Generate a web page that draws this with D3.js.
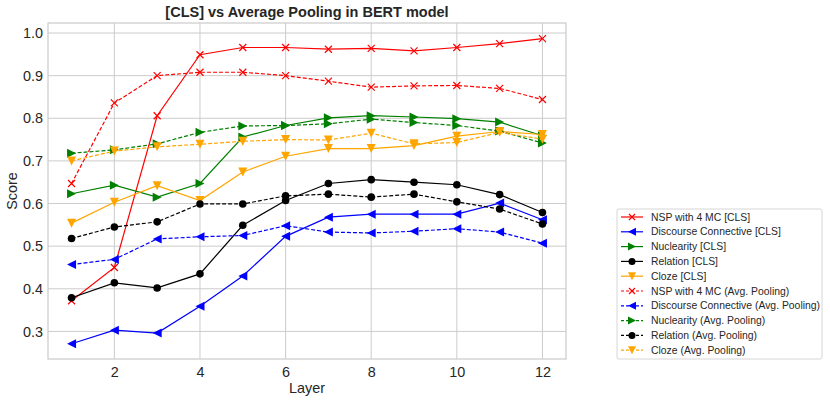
<!DOCTYPE html>
<html>
<head>
<meta charset="utf-8">
<script src="https://cdn.jsdelivr.net/npm/d3@7"></script>
<style>
  body { margin: 0; background: #fff; }
  text { font-family: "Liberation Sans", Arial, sans-serif; fill: #262626; }
</style>
</head>
<body>
<div id="chart"></div>
<script>
// Data
var layers = [1, 2, 3, 4, 5, 6, 7, 8, 9, 10, 11, 12];

var nspCls = [0.372, 0.450, 0.806, 0.949, 0.966, 0.966, 0.962, 0.964, 0.958, 0.966, 0.975, 0.987];
var discCls = [0.271, 0.303, 0.296, 0.359, 0.430, 0.523, 0.568, 0.575, 0.575, 0.575, 0.601, 0.562];
var nucCls = [0.623, 0.643, 0.615, 0.647, 0.756, 0.783, 0.801, 0.806, 0.803, 0.799, 0.791, 0.759];
var relCls = [0.379, 0.414, 0.402, 0.435, 0.549, 0.607, 0.647, 0.656, 0.650, 0.644, 0.621, 0.579];
var clozeCls = [0.554, 0.603, 0.642, 0.607, 0.674, 0.711, 0.729, 0.729, 0.736, 0.758, 0.769, 0.762];

var nspAvg = [0.647, 0.836, 0.900, 0.908, 0.908, 0.900, 0.887, 0.873, 0.876, 0.877, 0.870, 0.844];
var discAvg = [0.457, 0.469, 0.517, 0.522, 0.525, 0.548, 0.533, 0.531, 0.535, 0.541, 0.533, 0.507];
var nucAvg = [0.718, 0.726, 0.740, 0.767, 0.782, 0.783, 0.787, 0.798, 0.790, 0.783, 0.770, 0.742];
var relAvg = [0.518, 0.545, 0.557, 0.599, 0.599, 0.618, 0.622, 0.615, 0.622, 0.604, 0.587, 0.552];
var clozeAvg = [0.700, 0.723, 0.733, 0.739, 0.746, 0.750, 0.749, 0.765, 0.740, 0.743, 0.767, 0.751];

var xTicks = [2, 4, 6, 8, 10, 12];
var yTicks = [0.3, 0.4, 0.5, 0.6, 0.7, 0.8, 0.9, 1.0];

var series = [
  { name: "NSP with 4 MC [CLS]", values: nspCls, color: "red", marker: "x", dash: null },
  { name: "Discourse Connective [CLS]", values: discCls, color: "blue", marker: "left", dash: null },
  { name: "Nuclearity [CLS]", values: nucCls, color: "green", marker: "right", dash: null },
  { name: "Relation [CLS]", values: relCls, color: "black", marker: "circle", dash: null },
  { name: "Cloze [CLS]", values: clozeCls, color: "orange", marker: "down", dash: null },
  { name: "NSP with 4 MC (Avg. Pooling)", values: nspAvg, color: "red", marker: "x", dash: "4,2" },
  { name: "Discourse Connective (Avg. Pooling)", values: discAvg, color: "blue", marker: "left", dash: "4,2" },
  { name: "Nuclearity (Avg. Pooling)", values: nucAvg, color: "green", marker: "right", dash: "4,2" },
  { name: "Relation (Avg. Pooling)", values: relAvg, color: "black", marker: "circle", dash: "4,2" },
  { name: "Cloze (Avg. Pooling)", values: clozeAvg, color: "orange", marker: "down", dash: "4,2" }
];

//SVG setup
var margin = { top: 23, right: 264, bottom: 43, left: 48 };
var width = 830 - margin.left - margin.right;
var height = 402 - margin.top - margin.bottom;

var root = d3.select("#chart")
  .append("svg")
  .attr("width", 830)
  .attr("height", 402);

var svg = root.append("g")
  .attr("transform", "translate(" + margin.left + "," + margin.top + ")");

//Scales
var x = d3.scaleLinear().domain([0.45, 12.55]).range([0, width]);
var y = d3.scaleLinear().domain([0.2353, 1.0235]).range([height, 0]);

//Grid
svg.append("g")
  .selectAll("line.vgrid")
  .data(xTicks)
  .enter().append("line")
  .attr("x1", function(d) { return x(d); })
  .attr("x2", function(d) { return x(d); })
  .attr("y1", 0).attr("y2", height)
  .attr("stroke", "#cccccc").attr("stroke-width", 1);

svg.append("g")
  .selectAll("line.hgrid")
  .data(yTicks)
  .enter().append("line")
  .attr("y1", function(d) { return y(d); })
  .attr("y2", function(d) { return y(d); })
  .attr("x1", 0).attr("x2", width)
  .attr("stroke", "#cccccc").attr("stroke-width", 1);

//Frame
svg.append("rect")
  .attr("width", width).attr("height", height)
  .attr("fill", "none").attr("stroke", "#cccccc").attr("stroke-width", 1.25);

//Axes
var xAxis = svg.append("g")
  .attr("transform", "translate(0," + height + ")")
  .call(d3.axisBottom(x).tickValues(xTicks).tickSize(0).tickPadding(8).tickFormat(d3.format("d")));
var yAxis = svg.append("g")
  .call(d3.axisLeft(y).tickValues(yTicks).tickSize(0).tickPadding(5).tickFormat(d3.format(".1f")));
[xAxis, yAxis].forEach(function(a) {
  a.select(".domain").remove();
  a.selectAll("text").attr("font-size", "14.4px").attr("font-family", "Liberation Sans, Arial, sans-serif").attr("fill", "#262626");
});

//Axis labels and title
svg.append("text")
  .attr("x", width / 2).attr("y", height + 34)
  .attr("text-anchor", "middle").attr("font-size", "14.4px")
  .text("Layer");

svg.append("text")
  .attr("transform", "rotate(-90)")
  .attr("x", -height / 2).attr("y", -31)
  .attr("text-anchor", "middle").attr("font-size", "14.4px")
  .text("Score");

svg.append("text")
  .attr("x", width / 2).attr("y", -6)
  .attr("text-anchor", "middle").attr("font-size", "14.5px").attr("font-weight", "bold")
  .text("[CLS] vs Average Pooling in BERT model");

//Marker drawing
var drawMarker = function(g, type, color, size) {
  var s = size;
  if (type === "x") {
    g.append("path")
      .attr("d", "M" + (-s) + "," + (-s) + "L" + s + "," + s + "M" + (-s) + "," + s + "L" + s + "," + (-s))
      .attr("stroke", color).attr("stroke-width", 1.2).attr("fill", "none");
  } else if (type === "circle") {
    g.append("circle").attr("r", s).attr("fill", color);
  } else {
    var pts;
    if (type === "left") pts = [[-s, 0], [s, -s], [s, s]];
    else if (type === "right") pts = [[s, 0], [-s, -s], [-s, s]];
    else pts = [[0, s], [-s, -s], [s, -s]];
    g.append("path").attr("d", "M" + pts.join("L") + "Z").attr("fill", color);
  }
};

var line = d3.line()
  .x(function(d, i) { return x(layers[i]); })
  .y(function(d) { return y(d); });

series.forEach(function(s) {
  svg.append("path")
    .datum(s.values)
    .attr("d", line)
    .attr("fill", "none")
    .attr("stroke", s.color)
    .attr("stroke-width", 1.2)
    .attr("stroke-dasharray", s.dash);

  s.values.forEach(function(v, i) {
    var g = svg.append("g")
      .attr("transform", "translate(" + x(layers[i]) + "," + y(v) + ")");
    drawMarker(g, s.marker, s.color, s.marker === "x" ? 3.5 : (s.marker === "circle" ? 3.8 : 4.5));
  });
});

//Legend
var legend = root.append("g").attr("transform", "translate(617,209)");
legend.append("rect")
  .attr("width", 205).attr("height", 150)
  .attr("rx", 2)
  .attr("fill", "#fff").attr("stroke", "#d6d6d6").attr("stroke-width", 1);

series.forEach(function(s, i) {
  var row = legend.append("g").attr("transform", "translate(0," + (8 + i * 14.8) + ")");
  row.append("line")
    .attr("x1", 4).attr("x2", 26)
    .attr("stroke", s.color).attr("stroke-width", 1.2)
    .attr("stroke-dasharray", s.dash ? "3,2" : null);
  var m = row.append("g").attr("transform", "translate(15,0)");
  drawMarker(m, s.marker, s.color, s.marker === "x" ? 3 : (s.marker === "circle" ? 3.5 : 4));
  row.append("text")
    .attr("x", 34).attr("y", 3.6)
    .attr("font-size", "10.4px")
    .text(s.name);
});
</script>
</body>
</html>
